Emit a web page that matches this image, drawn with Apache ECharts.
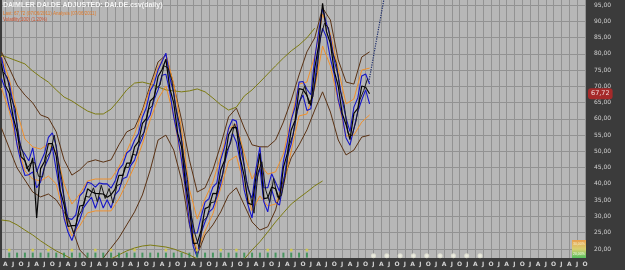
<!DOCTYPE html>
<html><head><meta charset="utf-8">
<script src="https://cdn.jsdelivr.net/npm/echarts@6/dist/echarts.min.js"></script>
<style>html,body{margin:0;padding:0;background:#3b3b3b}#c{width:625px;height:270px}</style>
</head><body><div id="c"></div>
<script>
// ---- data (x in quarters, y in EUR) ----
const quarterLetters = ['A','J','O','J'];
const yTickValues = [20,25,30,35,40,45,50,55,60,65,70,75,80,85,90,95];
const lastPrice = 67.72;

const priceStartQ = -0.5, priceStepQ = 0.5;
const priceClose = [
77.0,70.2,67.9,60.5,56.0,48.4,47.2,43.8,48.0,29.5,
44.7,46.9,52.4,52.4,48.6,38.1,33.6,26.9,27.2,27.2,
33.2,33.5,38.5,37.6,37.1,37.0,36.9,35.9,36.7,38.3,
42.6,42.6,46.4,46.4,51.4,53.0,58.6,60.1,65.5,66.7,
73.0,75.1,78.3,69.3,64.9,55.6,51.4,40.1,32.8,21.7,
21.8,25.8,32.4,33.0,37.1,37.0,44.3,47.3,55.1,57.3,
57.4,47.8,42.4,34.1,33.6,42.2,49.4,35.5,35.7,39.0,
38.5,35.2,45.1,49.3,56.6,59.6,69.3,69.0,67.2,64.1,
75.6,82.6,95.5,86.8,83.2,74.5,70.1,61.7,58.2,53.6,
61.7,63.2,70.1,69.7,67.72];
const altStartQ = -0.25;
const priceCloseAlt = [
74.4,72.8,66.5,63.2,53.4,49.6,44.6,46.4,46.6,42.3,
42.1,48.1,49.8,55.0,47.2,40.8,31.0,28.1,24.6,29.8,
31.8,36.2,35.9,38.8,34.5,39.6,35.5,38.6,34.1,39.5,
40.0,45.2,45.0,49.1,48.8,54.2,56.0,62.7,64.1,69.4,
70.4,76.3,75.7,71.9,63.5,58.3,48.8,41.3,30.2,24.3,
20.4,28.5,29.8,34.2,34.5,39.6,42.9,50.0,52.5,58.5,
54.8,50.4,41.0,36.8,31.0,43.4,46.8,38.1,34.3,41.7,
35.9,36.4,42.5,51.9,55.2,62.3,66.7,70.2,64.6,66.7,
74.2,85.3,89.4,88.0,80.6,77.1,68.7,64.4,55.6,54.8,
59.1,65.8,68.7,72.4];
const blueUpper = [
78.9,73.5,71.0,64.6,58.0,50.9,49.1,47.1,51.1,43.7,
46.7,49.4,54.3,55.7,51.7,42.2,35.6,29.4,29.1,30.5,
36.3,37.6,40.5,40.1,39.0,40.3,40.0,40.0,38.7,40.8,
44.5,45.9,49.5,50.5,53.4,55.5,60.5,63.4,68.6,70.8,
75.0,77.6,80.2,72.6,68.0,59.7,53.4,42.6,34.7,25.0,
24.9,29.9,34.4,35.5,39.0,40.3,47.4,51.4,57.1,59.8,
59.3,51.1,45.5,38.2,35.6,44.7,51.3,38.8,38.8,43.1,
40.5,37.7,47.0,52.6,59.7,63.7,71.3,71.5,69.1,67.4,
78.7,86.7,94.0,89.3,85.1,77.8,73.2,65.8,60.2,56.1,
63.6,66.5,73.2,73.8,70.7];
const blueLower = [
72.4,69.2,63.6,59.7,51.9,46.7,42.6,42.8,43.7,38.8,
40.6,45.2,47.8,51.4,44.3,37.3,29.5,25.2,22.6,26.2,
28.9,32.7,34.4,35.9,32.5,36.0,32.6,35.1,32.6,36.6,
38.0,41.6,42.1,45.6,47.3,51.3,54.0,59.1,61.2,65.9,
68.9,73.4,73.7,68.3,60.6,54.8,47.3,38.4,28.2,20.7,
17.5,25.0,28.3,31.3,32.5,36.0,40.0,46.5,51.0,55.6,
52.8,46.8,38.1,33.3,29.5,40.5,44.8,34.5,31.4,38.2,
34.4,33.5,40.5,48.3,52.3,58.8,65.2,67.3,62.6,63.1,
71.3,81.8,87.9,85.1,78.6,73.5,65.8,60.9,54.1,51.9,
57.1,62.2,65.8,68.9,64.6];

const bandStartQ = -0.5, bandStepQ = 1;
const outerUpper = [
80.6,75.6,70.4,67.3,64.9,61.2,60.3,56.0,47.4,42.7,
44.3,46.7,47.4,46.7,47.4,52.0,56.0,57.2,62.7,70.4,
77.5,79.6,70.4,59.7,47.4,37.5,38.8,44.3,52.0,60.6,
63.3,57.2,52.0,51.4,51.4,53.5,59.0,65.8,73.5,80.6,
84.9,94.1,90.4,78.1,71.3,70.7,79.0,80.6];
const outerLower = [
57.2,51.0,44.9,41.2,37.5,36.0,36.9,35.1,31.4,26.5,
19.7,17.2,16.0,17.2,20.3,23.4,27.4,31.4,36.6,44.3,
53.5,55.0,50.4,41.2,27.4,18.2,24.3,27.4,31.4,36.6,
38.8,33.5,28.3,25.8,26.8,32.0,41.2,48.0,52.0,56.6,
62.7,68.3,62.1,53.5,48.9,50.4,54.4,55.0];
const innerUpper = [
79.3,72.2,62.1,53.8,51.4,50.7,52.3,49.8,40.0,33.8,
36.9,40.9,41.5,41.5,41.5,45.2,50.1,55.4,62.1,69.5,
75.9,79.9,70.7,56.9,38.4,29.2,35.4,40.6,48.6,56.9,
58.4,49.2,41.5,46.1,43.0,43.7,49.2,60.0,70.7,71.3,
79.3,92.2,86.1,75.3,64.6,66.1,75.0,75.6];
const innerLower = [
69.5,62.4,52.3,44.0,41.5,40.9,42.4,40.0,30.1,24.0,
27.1,31.1,31.7,31.7,31.7,35.4,40.3,45.5,52.3,59.7,
66.1,70.1,60.9,47.0,28.6,19.4,25.5,30.8,38.7,47.0,
48.6,39.4,31.7,36.3,33.2,33.8,39.4,50.1,60.9,61.5,
69.5,82.4,76.3,65.5,54.7,55.0,59.0,61.2];
const trendUpper = [
79.6,78.7,77.8,76.9,74.7,72.9,71.3,68.9,66.7,65.5,
63.9,62.4,61.5,61.5,63.0,65.8,68.9,71.0,71.3,70.7,
69.8,68.9,68.6,68.3,68.6,69.2,68.3,66.4,64.3,62.7,
63.6,67.0,68.9,71.3,73.8,76.3,78.7,80.9,82.7,84.9,
87.9];
const trendLower = [
28.9,28.6,27.4,25.8,24.3,22.5,20.9,19.4,18.2,16.9,
15.7,14.8,14.8,15.4,16.9,18.2,19.4,20.3,20.9,21.2,
20.9,20.6,20.0,19.1,18.2,16.9,15.7,14.8,14.2,14.5,
15.4,16.9,19.7,22.2,25.2,28.3,31.1,33.8,35.7,37.5,
39.4,40.9];
const projectionQ = [46.4, 49.2];
const projectionV = [71.3, 108.2];

const greenSignalQ = [0.5,1.5,2.5,3.5,4.5,5.5,6.5,7.5,8.5,9.5,10.5,11.5,12.5,13.5,14.5,15.5,16.5,17.5,18.5,19.5,
  20.5,21.5,22.5,23.5,24.5,25.5,26.5,27.5,28.5,29.5,30.5,31.5,32.5,33.5,34.5,35.5,36.5,37.5,38.5];
const yellowSignalQ = [0.5,3.5,5.5,8.5,11.5,13.5,16.5,20.5,24.5,27.5,29.5,33.5,36.5,38.5];
const whiteSignalQ = [47,48.7,50.4,52.1,53.8,55.5,57.2,58.9,60.6];
const greenLevel = 18.1, yellowLevel = 19.7, whiteLevel = 17.9;

// ---- build ----
const pairs = (arr, s, st) => arr.map((v, i) => [s + st * i, v]);
const qTicks = Array.from({length: 75}, (_, i) => i);
const fmt = v => v.toFixed(2).replace('.', ',');

function line(name, data, color, width, z, type) {
  return {name, type: 'line', data, symbol: 'none', z, silent: true,
    lineStyle: {color, width, type: type || 'solid'}};
}

const chart = echarts.init(document.getElementById('c'));
chart.setOption({
  backgroundColor: '#3b3b3b',
  animation: false,
  grid: {left: 0, top: 0, width: 586, height: 258, show: true, backgroundColor: '#b7b7b7', borderWidth: 0},
  xAxis: {
    type: 'value', min: -0.42, max: 74.13,
    axisLine: {show: false},
    axisTick: {show: false, customValues: qTicks},
    splitLine: {show: true, lineStyle: {color: '#929292', width: 1}},
    axisLabel: {customValues: qTicks, formatter: v => quarterLetters[((Math.round(v) % 4) + 4) % 4],
      color: '#d4d4d4', fontSize: 6, margin: 3, fontFamily: 'DejaVu Sans', fontWeight: 'bold'}
  },
  yAxis: {
    type: 'value', position: 'right', min: 17.22, max: 96.54,
    axisLine: {show: false},
    axisTick: {show: false, customValues: yTickValues},
    splitLine: {show: true, lineStyle: {color: '#929292', width: 1}},
    axisLabel: {customValues: yTickValues, formatter: fmt, color: '#d0d0d0', fontSize: 6,
      margin: 8, fontFamily: 'DejaVu Sans'},
    axisPointer: {show: true, value: lastPrice, status: 'show', triggerTooltip: false,
      type: 'line', lineStyle: {color: 'rgba(0,0,0,0)', width: 0},
      label: {show: true, formatter: p => fmt(p.value), backgroundColor: '#a52a2a',
        color: '#f4dede', fontSize: 6.5, padding: [2, 3], margin: 2, fontFamily: 'DejaVu Sans'}}
  },
  series: [
    line('trendUpper', pairs(trendUpper, bandStartQ, bandStepQ), '#7c7a12', 1, 2),
    line('trendLower', pairs(trendLower, bandStartQ, bandStepQ), '#7c7a12', 1, 2),
    line('outerUpper', pairs(outerUpper, bandStartQ, bandStepQ), '#5a3214', 1, 3),
    line('outerLower', pairs(outerLower, bandStartQ, bandStepQ), '#5a3214', 1, 3),
    line('innerUpper', pairs(innerUpper, bandStartQ, bandStepQ), '#f0902c', 1, 4),
    line('innerLower', pairs(innerLower, bandStartQ, bandStepQ), '#f0902c', 1, 4),
    line('blueUpper', pairs(blueUpper, priceStartQ, priceStepQ), '#1616c8', 1.1, 5),
    line('blueLower', pairs(blueLower, priceStartQ, priceStepQ), '#1616c8', 1.1, 5),
    line('closeAlt', pairs(priceCloseAlt, altStartQ, priceStepQ), '#1a1a1a', 1, 6),
    line('close', pairs(priceClose, priceStartQ, priceStepQ), '#050505', 1.2, 6),
    line('projection', projectionQ.map((q, i) => [q, projectionV[i]]), '#1c2c6a', 1.2, 7, 'dotted'),
    {type: 'scatter', silent: true, z: 8, symbol: 'rect', symbolSize: [2, 5],
      itemStyle: {color: '#2c8c4a'}, data: greenSignalQ.map(q => [q, greenLevel])},
    {type: 'scatter', silent: true, z: 8, symbol: 'circle', symbolSize: 3,
      itemStyle: {color: '#d8d040'}, data: yellowSignalQ.map(q => [q, yellowLevel])},
    {type: 'scatter', silent: true, z: 8, symbol: 'emptyCircle', symbolSize: 3,
      itemStyle: {color: '#e8e8d8', borderColor: '#e8e8d8', borderWidth: 0.8}, data: whiteSignalQ.map(q => [q, whiteLevel])}
  ],
  graphic: [
    {type: 'text', left: 3, top: 2, z: 20, style: {text: 'DAIMLER DAI.DE ADJUSTED: DAI.DE.csv(daily)',
      fill: '#f4f4f4', font: 'bold 7px "Liberation Sans"'}},
    {type: 'text', left: 3, top: 11, z: 20, style: {text: 'Last: 67,72 (07/06/2011) Analysis [07/06/2011]',
      fill: '#e07a2a', font: '4.5px "Liberation Sans"'}},
    {type: 'text', left: 3, top: 17, z: 20, style: {text: 'Volatility(100) (1.20%)',
      fill: '#d0502a', font: '4.5px "Liberation Sans"'}},
    {type: 'rect', left: 572, top: 240, z: 20, shape: {width: 14, height: 18},
      style: {fill: new echarts.graphic.LinearGradient(0, 0, 0, 1, [
        {offset: 0, color: '#e8a050'}, {offset: 0.5, color: '#d8d070'}, {offset: 1, color: '#58c060'}])}},
    {type: 'text', left: 573, top: 242, z: 21, style: {text: '30,00%', fill: '#f8f0d0', font: '3.5px "Liberation Sans"'}},
    {type: 'text', left: 573, top: 252, z: 21, style: {text: '20,00%', fill: '#f8fff0', font: '3.5px "Liberation Sans"'}}
  ]
});
</script></body></html>
